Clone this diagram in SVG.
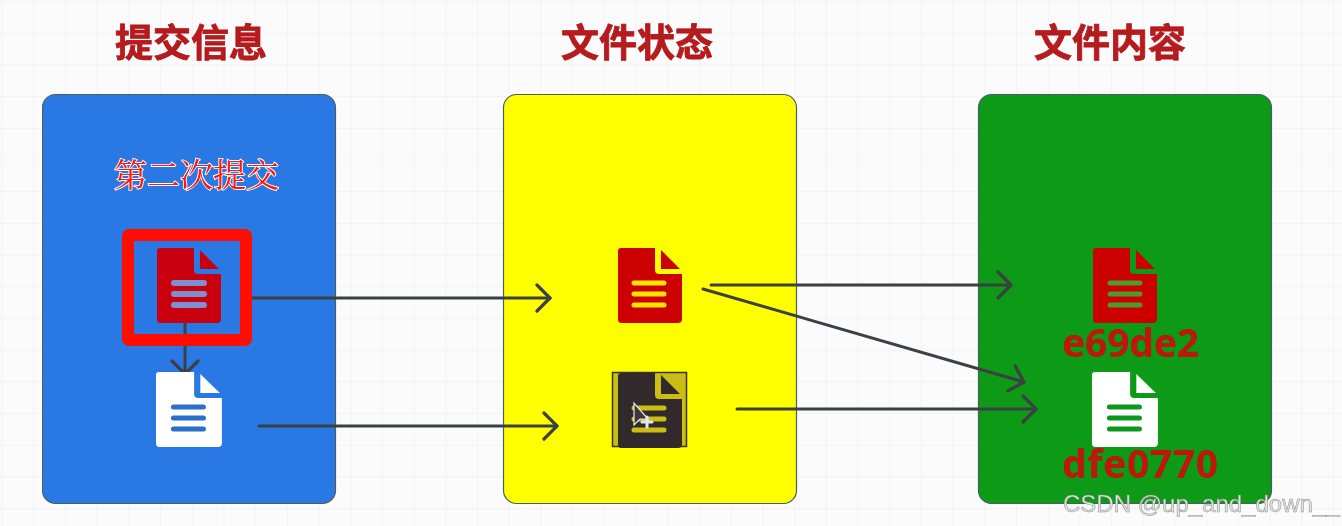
<svg xmlns="http://www.w3.org/2000/svg" xmlns:xlink="http://www.w3.org/1999/xlink" width="1342" height="526" viewBox="0 0 1342 526">
<style>
.title{font-family:"Noto Sans CJK SC",sans-serif;font-weight:700;font-size:38px;fill:#b51a1d;stroke:#b51a1d;stroke-width:0.8;text-anchor:middle}
.panel{stroke:#4a5f68;stroke-width:1.2}
.conn{fill:none;stroke:#3c4143;stroke-width:3;stroke-linecap:round;stroke-linejoin:round}
.hash{font-family:"Noto Sans",sans-serif;font-weight:700;font-size:39px;fill:#bf1208}
</style>
<defs>
<path id="sheet" d="M3 0H37V22Q37 26 41 26H64V71Q64 75 60 75H3Q0 75 0 71V3Q0 0 3 0Z"/>
<path id="corner" d="M43 2L62 21H43Z"/>
<pattern id="gridp" patternUnits="userSpaceOnUse" x="1.600" y="1" width="31.700" height="31.700">
<path d="M0 0V31.700M0 0H31.700" fill="none" stroke="#f3f3f3" stroke-width="2"/>
</pattern>
<marker id="open" markerUnits="userSpaceOnUse" markerWidth="32" markerHeight="32" refX="26" refY="16" orient="auto">
<path d="M13 3L26 16L13 29" fill="none" stroke="#3c4143" stroke-width="3.2" stroke-linecap="round" stroke-linejoin="round"/>
</marker>
<filter id="soft" x="0" y="0" width="100%" height="100%" filterUnits="objectBoundingBox"><feGaussianBlur stdDeviation="0.5"/></filter>
</defs>
<rect width="1342" height="526" fill="#fbfbfb"/>
<rect width="1342" height="526" fill="url(#gridp)"/>
<g filter="url(#soft)">
<g id="title-commit"><text class="title" x="191" y="55.500">提交信息</text></g>
<g id="title-tree"><text class="title" x="637" y="55.500">文件状态</text></g>
<g id="title-blob"><text class="title" x="1110" y="55.500">文件内容</text></g>
<g id="panel-commit"><rect class="panel" x="42.500" y="94.500" width="293" height="409" rx="13" fill="#2b78e3"/>
<text x="196.500" y="187" font-family="'Noto Serif CJK SC','Noto Sans CJK SC',serif" font-size="33" fill="#ff1208" stroke="#fff" stroke-width="1.800" paint-order="stroke" text-anchor="middle">第二次提交</text></g>
<g id="panel-tree"><rect class="panel" x="503.500" y="94.500" width="293" height="409" rx="13" fill="#ffff00"/></g>
<g id="panel-blob"><rect class="panel" x="978.500" y="94.500" width="293" height="409" rx="13" fill="#0b9a12"/></g>
<g id="connectors">
<path class="conn" d="M185 322V374" marker-end="url(#open)"/>
<path class="conn" d="M252 298H550" marker-end="url(#open)"/>
<path class="conn" d="M259 426H557" marker-end="url(#open)"/>
<path class="conn" d="M711 285H1011" marker-end="url(#open)"/>
<path class="conn" d="M703 289L1024 382" marker-end="url(#open)"/>
<path class="conn" d="M737 409H1036" marker-end="url(#open)"/>
</g>
<g id="doc-commit-red">
<rect x="128" y="235" width="118" height="105" fill="none" stroke="#ff1000" stroke-width="12" rx="1"/>
<g transform="translate(157,248)"><use xlink:href="#sheet" fill="#c9000b"/><use xlink:href="#corner" fill="#c9000b"/>
<path d="M17 35H47M17 46H47M17 57H47" stroke="#7f8fd0" stroke-width="6" stroke-linecap="round"/></g>
</g>
<g id="doc-commit-white" transform="translate(156,372) scale(1.030,1)"><use xlink:href="#sheet" fill="#fff"/><use xlink:href="#corner" fill="#fff"/>
<path d="M17 35H46M17 46H46M17 57H46" stroke="#2b6fc9" stroke-width="5" stroke-linecap="round"/></g>
<g id="doc-tree-red" transform="translate(618,248)"><use xlink:href="#sheet" fill="#cc0000"/><use xlink:href="#corner" fill="#cc0000"/>
<path d="M16 35H46M16 46H46M16 57H46" stroke="#ffe500" stroke-width="5" stroke-linecap="round"/></g>
<g id="doc-tree-dark">
<rect x="612.500" y="372.500" width="74" height="74" fill="#c9bd12" stroke="#3a3128" stroke-width="1.500"/>
<g transform="translate(618,373)"><use xlink:href="#sheet" fill="#332c2b"/><use xlink:href="#corner" fill="#332c2b"/>
<path d="M16 35H46M16 46H46M16 57H46" stroke="#c9bd12" stroke-width="5" stroke-linecap="round"/></g>
<path d="M634 403V425L640 419L648 419Z" fill="#3a3838" stroke="#e4e8ee" stroke-width="1.200"/>
<path d="M647 417V427M642 422H652" stroke="#e4e8ee" stroke-width="3" stroke-linecap="round"/>
</g>
<g id="doc-blob-red" transform="translate(1093,248)"><use xlink:href="#sheet" fill="#cc0000"/><use xlink:href="#corner" fill="#cc0000"/>
<path d="M17 35H47M17 46H47M17 57H47" stroke="#4f9a2a" stroke-width="5" stroke-linecap="round"/></g>
<text class="hash" x="1062" y="357" textLength="137">e69de2</text>
<g id="doc-blob-white" transform="translate(1092,372) scale(1.030,1)"><use xlink:href="#sheet" fill="#fff"/><use xlink:href="#corner" fill="#fff"/>
<path d="M17 35H46M17 46H46M17 57H46" stroke="#11961b" stroke-width="5" stroke-linecap="round"/></g>
<text class="hash" x="1062" y="478" textLength="156">dfe0770</text>
<text x="1063" y="512" font-family="'Liberation Sans',sans-serif" font-size="24" fill="#e4e4e4" stroke="#8a8a8a" stroke-width="0.500">CSDN @up_and_down__</text>
</g>
</svg>
